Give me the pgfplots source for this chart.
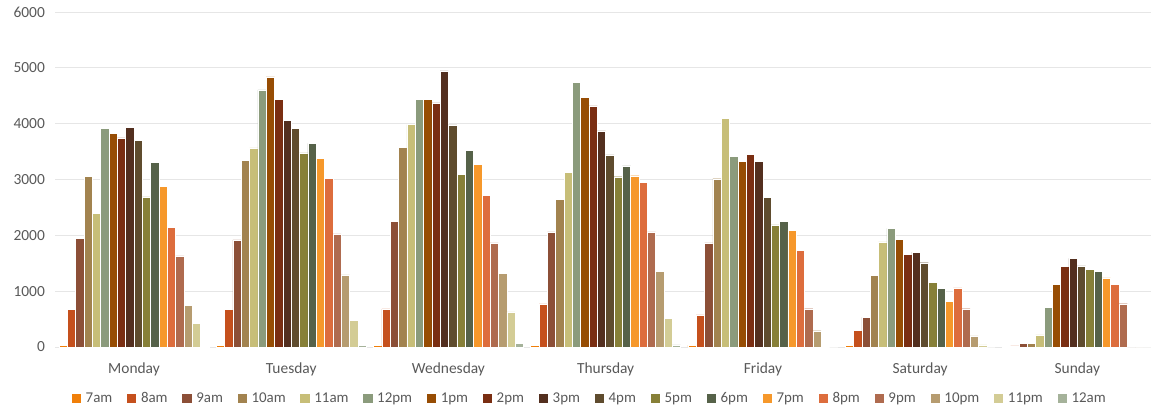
\documentclass[border=0pt]{standalone}
\usepackage{pgfplots}
\pgfplotsset{compat=1.18}
\usepackage{pgfplotstable}
\usepackage{fontspec}
\setmainfont{Carlito}
\definecolor{txt}{HTML}{595959}
\definecolor{gridc}{HTML}{E6E6E6}
\definecolor{c7a}{HTML}{F07F09}
\definecolor{c8a}{HTML}{C5501D}
\definecolor{c9a}{HTML}{8C4F37}
\definecolor{c10a}{HTML}{A2834F}
\definecolor{c11a}{HTML}{C7BE78}
\definecolor{c12p}{HTML}{8B9B7C}
\definecolor{c1p}{HTML}{974D04}
\definecolor{c2p}{HTML}{7A2E12}
\definecolor{c3p}{HTML}{532F1F}
\definecolor{c4p}{HTML}{5F4C2E}
\definecolor{c5p}{HTML}{878038}
\definecolor{c6p}{HTML}{566249}
\definecolor{c7p}{HTML}{F6982B}
\definecolor{c8p}{HTML}{DD6D3D}
\definecolor{c9p}{HTML}{AF6B4F}
\definecolor{c10p}{HTML}{B69C70}
\definecolor{c11p}{HTML}{D3CC95}
\definecolor{c12a}{HTML}{A5B29A}

% visits per hour, one row per day (0 = Monday ... 6 = Sunday)
\pgfplotstableread{
x  h7  h8  h9   h10  h11  h12  h13  h14  h15  h16  h17  h18  h19  h20  h21  h22  h23  h24
0  35  670 1944 3062 2392 3917 3828 3744 3929 3696 2691 3307 2883 2141 1633 748  419  15
1  35  670 1920 3337 3565 4605 4839 4432 4055 3911 3475 3648 3373 3020 2027 1292 478  25
2  35  682 2249 3582 3983 4438 4438 4372 4946 3977 3092 3517 3266 2721 1866 1322 628  65
3  35  771 2063 2643 3134 4737 4474 4318 3870 3439 3050 3242 3068 2955 2063 1358 508  40
4  35  574 1866 3014 4097 3409 3331 3445 3319 2685 2189 2254 2093 1729 686  292  15   0
5  35  298 531  1282 1884 2123 1926 1658 1700 1509 1163 1049 823  1061 686  200  40   0
6  10  20  60   60   215  704  1127 1443 1586 1455 1395 1360 1240 1127 775  0    0    0
}\visits

\begin{document}
\begin{tikzpicture}[x=1bp,y=1bp]
\useasboundingbox (0,0) rectangle (1151,412);
\begin{axis}[
    at={(55.4bp,65bp)}, anchor=south west,
    scale only axis,
    width=1095.6bp, height=335bp,
    xmin=-0.5, xmax=6.469,
    ymin=0, ymax=6000,
    ybar=0pt, bar width=0.053,
    xtick={0,...,6},
    xticklabels={Monday,Tuesday,Wednesday,Thursday,Friday,Saturday,Sunday},
    ytick={0,1000,...,6000},
    ymajorgrids, grid style={gridc, line width=0.8pt},
    axis line style={draw=none},
    major tick length=0pt,
    tick label style={font=\fontsize{15.5}{18}\selectfont, text=txt},
    xticklabel style={yshift=-12bp},
    yticklabel style={xshift=-7bp},
    /pgf/number format/assume math mode=true,
    /pgf/number format/1000 sep={},
    clip=true,
    every axis plot/.append style={draw=white, line width=0.4pt},
    legend columns=18,
    area legend,
    legend image code/.code={\fill[#1,draw=none] (0bp,-4.65bp) rectangle (9.3bp,4.65bp);},
    legend style={
        at={(0.0150,-0.1531)}, anchor=west,
        draw=none, fill=none, inner sep=0pt, outer sep=0pt,
        font=\fontsize{15}{18}\selectfont, text=txt,
        nodes={inner sep=0pt},
        /tikz/every odd column/.append style={column sep=4.6bp},
        /tikz/every even column/.append style={column sep=14.7bp},
    },
]
\addplot[fill=c7a]  table[x=x,y=h7]  {\visits};
\addplot[fill=c8a]  table[x=x,y=h8]  {\visits};
\addplot[fill=c9a]  table[x=x,y=h9]  {\visits};
\addplot[fill=c10a] table[x=x,y=h10] {\visits};
\addplot[fill=c11a] table[x=x,y=h11] {\visits};
\addplot[fill=c12p] table[x=x,y=h12] {\visits};
\addplot[fill=c1p]  table[x=x,y=h13] {\visits};
\addplot[fill=c2p]  table[x=x,y=h14] {\visits};
\addplot[fill=c3p]  table[x=x,y=h15] {\visits};
\addplot[fill=c4p]  table[x=x,y=h16] {\visits};
\addplot[fill=c5p]  table[x=x,y=h17] {\visits};
\addplot[fill=c6p]  table[x=x,y=h18] {\visits};
\addplot[fill=c7p]  table[x=x,y=h19] {\visits};
\addplot[fill=c8p]  table[x=x,y=h20] {\visits};
\addplot[fill=c9p]  table[x=x,y=h21] {\visits};
\addplot[fill=c10p] table[x=x,y=h22] {\visits};
\addplot[fill=c11p] table[x=x,y=h23] {\visits};
\addplot[fill=c12a] table[x=x,y=h24] {\visits};
\legend{7am,8am,9am,10am,11am,12pm,1pm,2pm,3pm,4pm,5pm,6pm,7pm,8pm,9pm,10pm,11pm,12am}
\end{axis}
\end{tikzpicture}
\end{document}
